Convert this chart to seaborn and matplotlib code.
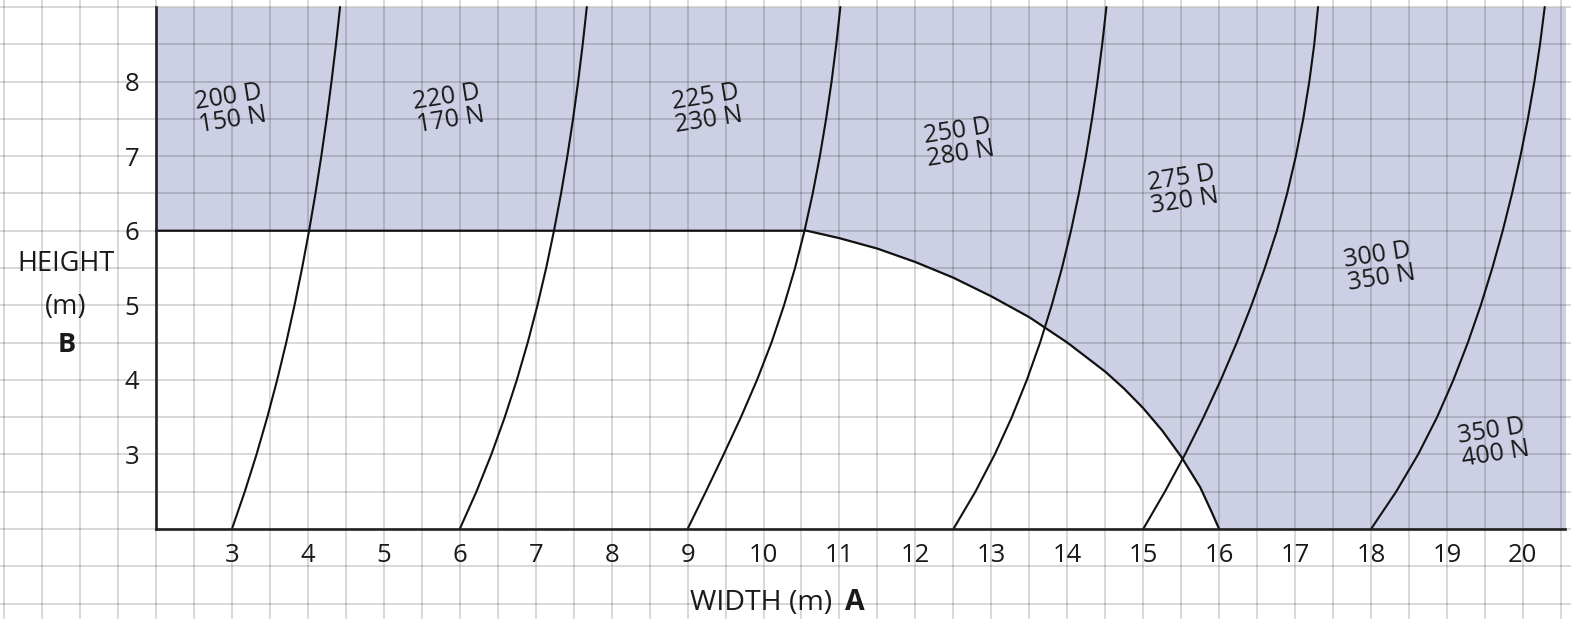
import numpy as np
import pandas as pd
import matplotlib
matplotlib.use("Agg")
import matplotlib.pyplot as plt
from matplotlib.ticker import MultipleLocator
import seaborn as sns

# ---------------- data ----------------
heights = [2.0, 2.5, 3.0, 3.5, 4.0, 4.5, 5.0, 5.5, 6.0, 6.5, 7.0, 7.5, 8.0, 8.5, 9.0]

curve_200D_150N = [3.000, 3.169, 3.324, 3.466, 3.596, 3.715, 3.824, 3.924, 4.016, 4.100, 4.177, 4.247, 4.311, 4.370, 4.424]
curve_220D_170N = [6.000, 6.219, 6.416, 6.593, 6.752, 6.895, 7.023, 7.138, 7.241, 7.334, 7.417, 7.492, 7.559, 7.619, 7.673]
curve_225D_230N = [9.000, 9.240, 9.475, 9.703, 9.915, 10.105, 10.270, 10.415, 10.540, 10.648, 10.742, 10.824, 10.896, 10.958, 11.012]
curve_250D_280N = [12.500, 12.790, 13.045, 13.270, 13.468, 13.642, 13.795, 13.930, 14.049, 14.153, 14.245, 14.326, 14.397, 14.460, 14.515]
curve_275D_320N = [15.000, 15.285, 15.550, 15.795, 16.022, 16.232, 16.425, 16.601, 16.760, 16.895, 17.010, 17.107, 17.187, 17.252, 17.302]
curve_300D_350N = [18.000, 18.330, 18.620, 18.870, 19.085, 19.275, 19.445, 19.597, 19.734, 19.857, 19.967, 20.065, 20.151, 20.225, 20.287]

curves = [curve_200D_150N, curve_220D_170N, curve_225D_230N,
          curve_250D_280N, curve_275D_320N, curve_300D_350N]

# boundary of the shaded zone (flat at 6 m, then the arc down to 16 m)
boundary_x = [2.0, 10.57, 11.0, 11.5, 12.0, 12.5, 13.0, 13.5, 14.0, 14.5, 14.75, 15.0, 15.25, 15.5, 15.75, 15.9, 16.0]
boundary_y = [6.0, 6.0, 5.90, 5.76, 5.58, 5.37, 5.12, 4.84, 4.50, 4.11, 3.88, 3.62, 3.32, 2.97, 2.56, 2.23, 2.0]

label_texts = ["200 D\n150 N", "220 D\n170 N", "225 D\n230 N", "250 D\n280 N",
               "275 D\n320 N", "300 D\n350 N", "350 D\n400 N"]
label_x = [2.98, 5.85, 9.26, 12.57, 15.52, 18.11, 19.61]
label_y = [7.64, 7.64, 7.64, 7.18, 6.55, 5.52, 3.16]

x_ticks = list(range(3, 21))
y_ticks = list(range(3, 9))

x_min, x_max = 2.0, 20.56
y_min, y_max = 2.0, 9.0

# ---------------- style ----------------
sns.set_theme(style="white")
plt.rcParams['font.family'] = ['Open Sans', 'DejaVu Sans']
text_color = '#1a1a1a'
fill_color = '#cdd0e5'

fig = plt.figure(figsize=(15.71, 6.19), dpi=100)
ax = fig.add_axes([0, 0, 1, 1])
ax.set_xlim(-0.054, 20.633)
ax.set_ylim(0.793, 9.094)

# shaded zone
fill_x = boundary_x + [x_max]
fill_y = boundary_y + [2.0]
ax.fill_between(fill_x, fill_y, [y_max] * len(fill_x), color=fill_color, lw=0, zorder=0.3)

# grid (whole figure, every 0.5 m)
ax.set_xticks(x_ticks)
ax.set_yticks(y_ticks)
ax.xaxis.set_minor_locator(MultipleLocator(0.5))
ax.yaxis.set_minor_locator(MultipleLocator(0.5))
ax.set_axisbelow(True)
ax.grid(which='both', color='black', alpha=0.18, lw=1.2)

# curves
for cx in curves:
    df = pd.DataFrame({'x': cx, 'y': heights})
    sns.lineplot(data=df, x='x', y='y', sort=False, estimator=None,
                 color='#111111', lw=1.5, ax=ax, zorder=3)

dfb = pd.DataFrame({'x': boundary_x, 'y': boundary_y})
sns.lineplot(data=dfb, x='x', y='y', sort=False, estimator=None,
             color='#111111', lw=1.6, ax=ax, zorder=3)

# spines as axis lines at x=2, y=2
for s in ['top', 'right']:
    ax.spines[s].set_visible(False)
ax.spines['left'].set_position(('data', 2.0))
ax.spines['bottom'].set_position(('data', 2.0))
ax.spines['left'].set_bounds(y_min, y_max)
ax.spines['bottom'].set_bounds(x_min, x_max)
for s in ['left', 'bottom']:
    ax.spines[s].set_linewidth(1.9)
    ax.spines[s].set_color('#222222')
    ax.spines[s].set_zorder(4)

ax.tick_params(which='both', length=0)
ax.tick_params(axis='x', pad=10, labelsize=18.5, labelcolor=text_color)
ax.tick_params(axis='y', pad=12, labelsize=18.5, labelcolor=text_color)
ax.set_xlabel('')
ax.set_ylabel('')

# labels on the zones
for t, lx, ly in zip(label_texts, label_x, label_y):
    ax.text(lx, ly, t, rotation=9, rotation_mode='anchor', ha='center', va='center',
            multialignment='center', linespacing=0.92, fontsize=18, color=text_color, zorder=5)

# axis titles
ax.text(0.815, 5.55, 'HEIGHT', ha='center', va='center', fontsize=19.5, color=text_color)
ax.text(0.815, 4.98, '(m)', ha='center', va='center', fontsize=19.5, color=text_color)
ax.text(0.83, 4.47, 'B', ha='center', va='center', fontsize=19.5, fontweight='bold', color=text_color)
ax.text(10.90, 1.01, 'WIDTH (m)', ha='right', va='center', fontsize=20.5, color=text_color)
ax.text(11.07, 1.01, 'A', ha='left', va='center', fontsize=20.5, fontweight='bold', color=text_color)

fig.savefig('out.png', dpi=100)
